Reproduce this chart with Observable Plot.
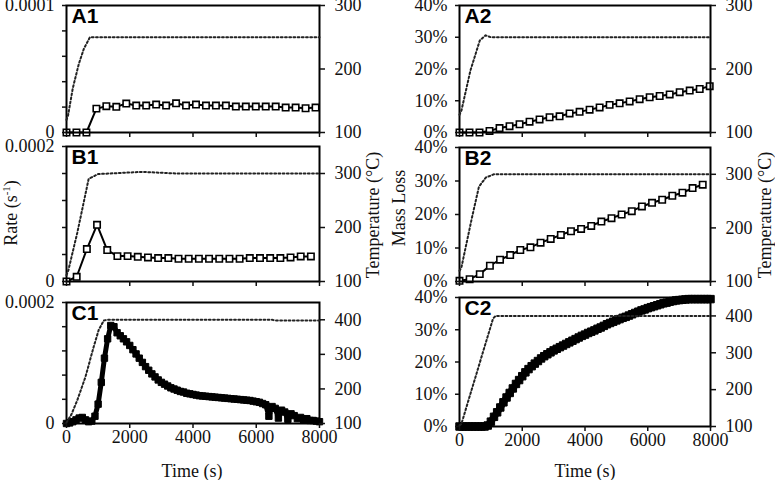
<!DOCTYPE html>
<html><head><meta charset="utf-8">
<script src="https://cdn.jsdelivr.net/npm/d3@7"></script>
<script src="https://cdn.jsdelivr.net/npm/@observablehq/plot@0.6"></script>
<style>
html,body{margin:0;padding:0;background:#fff;}
#chart{position:relative;width:775px;height:480px;overflow:hidden;font-family:"Liberation Serif",serif;color:#111;}
#chart svg{position:absolute;font-size:18px !important;}
#chart svg g[aria-label$="tick label"], #chart svg g[aria-label$="tick label"] text{font-family:"Liberation Serif",serif !important;}
.vlab{position:absolute;transform:translate(-50%,-50%) rotate(-90deg);white-space:nowrap;font-size:18px;}
.hlab{position:absolute;transform:translate(-50%,-50%);white-space:nowrap;font-size:18px;}
sup{font-size:11px;}
</style></head><body><div id="chart"></div>
<script>
// ---------- data ----------
const timeTicks = [0, 2000, 4000, 6000, 8000];

// A1: rate (s^-1), 250 °C
const timeA1 = [0,315,630,945,1260,1575,1890,2205,2520,2835,3150,3465,3780,4095,4410,4725,5040,5355,5670,5985,6300,6615,6930,7245,7560,7875];
const rateA1 = [0,0,0,1.88e-5,2.07e-5,2.02e-5,2.28e-5,2.12e-5,2.12e-5,2.2e-5,2.12e-5,2.3e-5,2.12e-5,2.2e-5,2.12e-5,2.12e-5,2.12e-5,2.04e-5,2.04e-5,2.04e-5,2.04e-5,2.04e-5,1.96e-5,1.96e-5,1.91e-5,1.96e-5];
const tempTimeA1 = [0,50,200,390,550,740,8000];
const tempA1 = [120,127,170,208,232,250,250];

// B1: rate, 300 °C
const timeB1 = [0,322,644,966,1288,1610,1932,2254,2576,2898,3220,3542,3864,4186,4508,4830,5152,5474,5796,6118,6440,6762,7084,7406,7728];
const rateB1 = [0,0.7e-5,4.8e-5,8.4e-5,4.65e-5,3.76e-5,3.76e-5,3.66e-5,3.56e-5,3.47e-5,3.47e-5,3.37e-5,3.37e-5,3.37e-5,3.37e-5,3.37e-5,3.37e-5,3.37e-5,3.47e-5,3.47e-5,3.47e-5,3.47e-5,3.56e-5,3.71e-5,3.71e-5];
const tempTimeB1 = [0,60,340,600,700,1000,2400,3500,8000];
const tempB1 = [112,121,190,262,290,299,303,300,300];

// C1: rate, 400 °C
const timeC1 = [0,100,200,300,400,500,600,700,800,900,1000,1100,1200,1300,1400,1500,1600,1700,1800,1900,2000,2100,2200,2300,2400,2500,2600,2700,2800,2900,3000,3100,3200,3300,3400,3500,3600,3700,3800,3900,4000,4100,4200,4300,4400,4500,4600,4700,4800,4900,5000,5100,5200,5300,5400,5500,5600,5700,5800,5900,6000,6100,6200,6300,6400,6500,6600,6700,6800,6900,7000,7100,7200,7300,7400,7500,7600,7700,7800,7900,8000];
const rateC1 = [0,0.1e-5,0.3e-5,0.6e-5,0.9e-5,1.0e-5,0.6e-5,0.3e-5,0.4e-5,1.2e-5,3.2e-5,6.8e-5,10.8e-5,14.0e-5,16.2e-5,16.0e-5,15.0e-5,14.5e-5,14.0e-5,13.5e-5,12.9e-5,12.2e-5,11.5e-5,10.8e-5,10.1e-5,9.4e-5,8.8e-5,8.2e-5,7.7e-5,7.2e-5,6.8e-5,6.5e-5,6.2e-5,5.9e-5,5.7e-5,5.5e-5,5.3e-5,5.2e-5,5.0e-5,4.9e-5,4.8e-5,4.7e-5,4.6e-5,4.55e-5,4.5e-5,4.45e-5,4.4e-5,4.35e-5,4.3e-5,4.25e-5,4.2e-5,4.15e-5,4.1e-5,4.05e-5,4.0e-5,3.95e-5,3.9e-5,3.85e-5,3.8e-5,3.7e-5,3.6e-5,3.5e-5,3.3e-5,3.1e-5,1.2e-5,2.8e-5,2.5e-5,0.9e-5,2.2e-5,1.9e-5,0.7e-5,1.6e-5,1.3e-5,0.8e-5,1.0e-5,0.6e-5,0.8e-5,0.5e-5,0.5e-5,0.4e-5,0.3e-5];
const tempTimeC1 = [0,150,340,600,860,1020,1180,1300,6500,6600,8000];
const tempC1 = [103,125,167,235,322,371,398,400,400,398,398];

// A2: mass loss (%), 250 °C
const timeA2 = [0,319,638,957,1276,1595,1914,2233,2552,2871,3190,3509,3828,4147,4466,4785,5104,5423,5742,6061,6380,6699,7018,7337,7656,7975];
const lossA2 = [0,0,0,0.5,1.4,2.0,2.6,3.4,4.1,4.8,5.1,6.0,6.5,7.2,7.9,8.7,9.2,9.8,10.5,11.1,11.5,12.0,12.7,13.2,13.7,14.6];
const tempTimeA2 = [0,64,350,647,830,1000,8000];
const tempA2 = [128,135,198,245,253,250,250];

// B2: mass loss (%), 300 °C
const timeB2 = [0,323,646,969,1292,1615,1938,2261,2584,2907,3230,3553,3876,4199,4522,4845,5168,5491,5814,6137,6460,6783,7106,7429,7752];
const lossB2 = [0.2,0.7,2.2,4.7,6.5,7.9,9.4,10.2,11.6,12.7,13.9,15.0,15.7,16.6,17.9,18.9,20.0,21.0,22.4,23.5,24.4,25.6,26.5,27.9,28.9];
const tempTimeB2 = [0,60,400,620,840,1100,8000];
const tempB2 = [120,126,220,277,294,300,300];

// C2: mass loss (%), 400 °C
const timeC2 = timeC1.slice();
const lossC2 = [0,0,0,0,0,0,0,0,0,0.3,1.5,3.0,4.4,5.9,7.5,9.0,10.4,11.8,13.2,14.4,15.6,16.8,17.8,18.7,19.5,20.3,21.1,21.8,22.4,23.0,23.6,24.1,24.6,25.1,25.6,26.1,26.6,27.1,27.6,28.1,28.5,29.0,29.4,29.8,30.3,30.7,31.2,31.7,32.1,32.5,32.9,33.3,33.7,34.0,34.4,34.8,35.2,35.6,36.0,36.3,36.7,37.0,37.3,37.6,37.9,38.2,38.4,38.7,38.9,39.1,39.2,39.3,39.4,39.5,39.5,39.5,39.5,39.5,39.5,39.5,39.5];
const tempTimeC2 = [0,60,1070,1150,8000];
const tempC2 = [103,107,393,400,400];

// axis ticks & labels
const rateTicksA = [0,2e-5,4e-5,6e-5,8e-5,1e-4];
const rateLabelsA = ["0","","","","","0.0001"];
const rateTicksBC = [0,4e-5,8e-5,12e-5,16e-5,2e-4];
const rateLabelsBC = ["0","","","","","0.0002"];
const lossTicks = [0,10,20,30,40];
const lossLabels = ["0%","10%","20%","30%","40%"];
const tempTicksA = [100,200,300];
const tempTicksB = [100,200,300];
const tempTicksC = [100,200,300,400];

// ---------- drawing ----------
const chart = document.getElementById("chart");
const rows = (xs, ys) => xs.map((t, i) => ({t, v: ys[i]}));
const SERIF = "Liberation Serif";

function panel(cfg) {
  const {x0, x1, y0, y1} = cfg;
  const mL = 70, mR = 70, mT = 20, mB = 60;
  const W = x1 - x0 + mL + mR, H = y1 - y0 + mT + mB;
  const common = {
    width: W, height: H, marginLeft: mL, marginRight: mR, marginTop: mT, marginBottom: mB,
    style: {background: "none", overflow: "visible", color: "#111"}
  };
  const data = rows(cfg.times, cfg.values);
  const dense = cfg.dense;
  const primary = Plot.plot({
    ...common,
    x: {domain: [0, 8000]},
    y: {domain: cfg.yDomain},
    marks: [
      Plot.line(data, {x: "t", y: "v", stroke: "black", strokeWidth: dense ? cfg.lw : 2}),
      Plot.dot(data, {x: "t", y: "v", symbol: "square", r: dense ? cfg.r : 3.6,
        fill: dense ? "black" : "white", stroke: "black", strokeWidth: dense ? 1 : 1.6}),
      Plot.frame({stroke: "black", strokeWidth: 2}),
      Plot.axisX({ticks: timeTicks, tickSize: 5, tickPadding: 2, strokeWidth: 1.5, label: null,
        fontFamily: SERIF, fontSize: 18,
        tickFormat: cfg.showX ? (d => String(d)) : (() => "")}),
      Plot.axisY({ticks: cfg.yTicks, tickSize: 4, tickPadding: 8, strokeWidth: 1.5, label: null,
        fontFamily: SERIF, fontSize: 18,
        tickFormat: d => cfg.yLabels[cfg.yTicks.indexOf(d)]}),
      Plot.text([cfg.name], {text: d => d, frameAnchor: "top-left", dx: 5, dy: 3,
        fontFamily: "Liberation Sans, Arial, sans-serif", fontWeight: "bold", fontSize: 21, fill: "black"})
    ]
  });
  const secondary = Plot.plot({
    ...common,
    x: {domain: [0, 8000], axis: null},
    y: {domain: [100, cfg.tMax]},
    marks: [
      Plot.line(rows(cfg.tempTimes, cfg.temps), {x: "t", y: "v", stroke: "#222", strokeWidth: 2, strokeDasharray: "1.8,2.4"}),
      Plot.axisY({anchor: "right", ticks: cfg.tTicks, tickSize: 5, tickPadding: 10, strokeWidth: 1.5, label: null,
        fontFamily: SERIF, fontSize: 18,
        tickFormat: d => String(d)})
    ]
  });
  for (const svg of [primary, secondary]) {
    svg.style.left = (x0 - mL) + "px";
    svg.style.top = (y0 - mT) + "px";
    chart.appendChild(svg);
  }
}

panel({name: "A1", x0: 66, x1: 319, y0: 5, y1: 132, times: timeA1, values: rateA1,
  yDomain: [0, 1e-4], yTicks: rateTicksA, yLabels: rateLabelsA,
  tempTimes: tempTimeA1, temps: tempA1, tMax: 300, tTicks: tempTicksA});
panel({name: "B1", x0: 66, x1: 319, y0: 146, y1: 281, times: timeB1, values: rateB1,
  yDomain: [0, 2e-4], yTicks: rateTicksBC, yLabels: rateLabelsBC,
  tempTimes: tempTimeB1, temps: tempB1, tMax: 350, tTicks: tempTicksB});
panel({name: "C1", x0: 66, x1: 319, y0: 302, y1: 423, times: timeC1, values: rateC1, dense: true, showX: true, r: 3.6, lw: 5,
  yDomain: [0, 2e-4], yTicks: rateTicksBC, yLabels: rateLabelsBC,
  tempTimes: tempTimeC1, temps: tempC1, tMax: 450, tTicks: tempTicksC});
panel({name: "A2", x0: 459, x1: 710, y0: 5, y1: 132, times: timeA2, values: lossA2,
  yDomain: [0, 40], yTicks: lossTicks, yLabels: lossLabels,
  tempTimes: tempTimeA2, temps: tempA2, tMax: 300, tTicks: tempTicksA});
panel({name: "B2", x0: 459, x1: 710, y0: 147, y1: 281, times: timeB2, values: lossB2,
  yDomain: [0, 40], yTicks: lossTicks, yLabels: lossLabels,
  tempTimes: tempTimeB2, temps: tempB2, tMax: 350, tTicks: tempTicksB});
panel({name: "C2", x0: 459, x1: 710, y0: 297, y1: 426, times: timeC2, values: lossC2, dense: true, showX: true, r: 4.2, lw: 7,
  yDomain: [0, 40], yTicks: lossTicks, yLabels: lossLabels,
  tempTimes: tempTimeC2, temps: tempC2, tMax: 450, tTicks: tempTicksC});

// axis titles
function label(html, x, y, cls) {
  const d = document.createElement("div");
  d.className = cls; d.innerHTML = html;
  d.style.left = x + "px"; d.style.top = y + "px";
  chart.appendChild(d);
}
label("Rate (s<sup>-1</sup>)", 11, 213, "vlab");
label("Temperature (°C)", 373, 215, "vlab");
label("Mass Loss", 399, 208, "vlab");
label("Temperature (°C)", 765, 215, "vlab");
label("Time (s)", 192, 471, "hlab");
label("Time (s)", 585, 471, "hlab");
</script></body></html>
